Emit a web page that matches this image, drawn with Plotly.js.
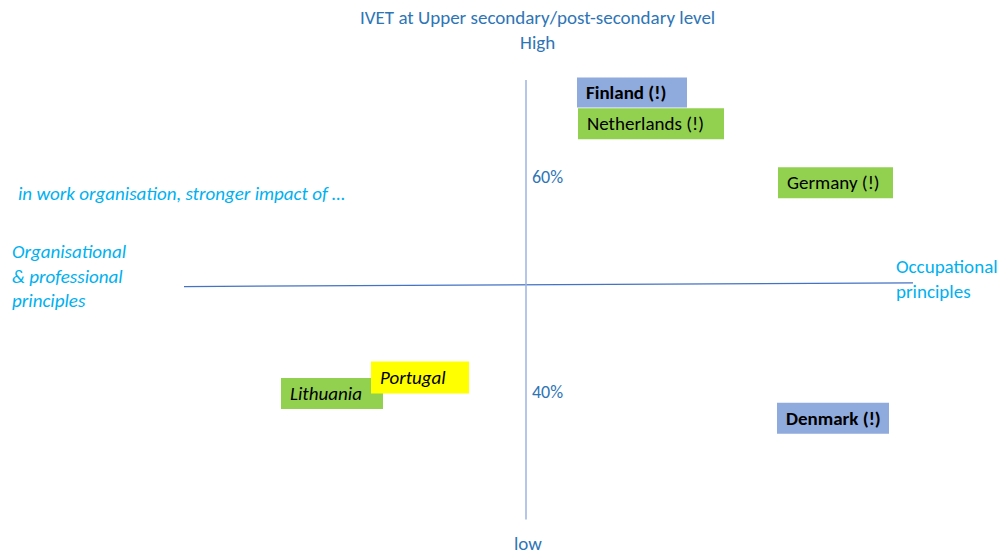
<!DOCTYPE html>
<html><head><meta charset="utf-8">
<script src="https://cdn.plot.ly/plotly-3.0.1.min.js"></script>
<style>html,body{margin:0;padding:0;background:#fff}#chart{width:1002px;height:554px}</style>
</head><body><div id="chart"></div>
<script>
// Data: countries placed by orientation (x: organisational <0 | occupational >0)
// and share of IVET at upper secondary/post-secondary level (y, %)
const countries = ["Finland (!)", "Netherlands (!)", "Germany (!)", "Lithuania", "Portugal", "Denmark (!)"];
const orientation = [2.12, 2.5, 6.19, -3.88, -2.12, 6.14];
const ivetShare = [67.9, 65.0, 59.5, 39.9, 41.4, 37.6];
const group = ["blue", "green", "green", "green", "yellow", "blue"];
const yTickVals = [60, 40];
const yTickText = ["60%", "40%"];

const FONT = "Carlito, Calibri, Lato, sans-serif";
const FS = 19;
const fill = {blue: "#8FAADC", green: "#92D050", yellow: "#FFFF00"};
const boxW = [110, 146, 115, 102, 98, 112];
const boxH = [30, 31, 31, 31, 32, 31];
const bold = [true, false, false, false, false, true];
const italic = [false, false, false, true, true, false];

const shapes = [
  {type: "line", xref: "x", yref: "y", x0: -6.84, y0: 49.85, x1: 7.74, y1: 50.2,
   line: {color: "#4472C4", width: 1.3}},
  {type: "line", xref: "x", yref: "y", x0: 0, y0: 69.07, x1: 0, y1: 28.2,
   line: {color: "#9DB3E0", width: 1.5}}
];
const annotations = [];

countries.forEach((c, i) => {
  const w = boxW[i], h = boxH[i];
  shapes.push({
    type: "rect", xref: "x", yref: "y", xsizemode: "pixel", ysizemode: "pixel",
    xanchor: orientation[i], yanchor: ivetShare[i],
    x0: -w / 2, x1: w / 2, y0: -h / 2, y1: h / 2,
    fillcolor: fill[group[i]], line: {width: 0}, layer: "above"
  });
  let t = c;
  if (bold[i]) t = "<b>" + t + "</b>";
  if (italic[i]) t = "<i>" + t + "</i>";
  annotations.push({
    x: orientation[i], y: ivetShare[i], xref: "x", yref: "y",
    text: t, showarrow: false, align: "left",
    xanchor: "left", yanchor: "middle", xshift: -w / 2 + 7,
    font: {family: FONT, size: FS, color: "#000"}
  });
});

yTickVals.forEach((v, i) => annotations.push({
  x: 0, y: v, xref: "x", yref: "y", text: yTickText[i], showarrow: false,
  xanchor: "left", yanchor: "middle", xshift: 4,
  font: {family: FONT, size: FS - 1, color: "#2E75B6"}
}));

const P = (px, py) => ({x: px / 1002, y: 1 - py / 554});
function lab(text, px, py, opts) {
  const p = P(px, py);
  return Object.assign({x: p.x, y: p.y, xref: "paper", yref: "paper", text: text,
    showarrow: false, yanchor: "middle"}, opts);
}
const blueFont = {family: FONT, size: FS, color: "#2E75B6"};
const cyanFont = {family: FONT, size: FS, color: "#00B0F0"};
annotations.push(lab("IVET at Upper secondary/post-secondary level<br>High", 537, 30, {xanchor: "center", font: blueFont}));
annotations.push({x: 528 / 1002, y: 0, xref: "paper", yref: "paper", text: "low", showarrow: false,
  xanchor: "center", yanchor: "bottom", yshift: -3, font: blueFont});
annotations.push(lab("<i>in work organisation, stronger impact of …</i>", 16, 193, {xanchor: "left", font: cyanFont}));
annotations.push(lab("<i>Organisational<br>& professional<br>principles</i>", 10, 276, {xanchor: "left", align: "left", font: cyanFont}));
annotations.push(lab("Occupational<br>principles", 894, 279, {xanchor: "left", align: "left", font: cyanFont}));

const trace = {x: orientation, y: ivetShare, mode: "markers", type: "scatter",
  marker: {opacity: 0}, hoverinfo: "skip", showlegend: false};

Plotly.newPlot("chart", [trace], {
  width: 1002, height: 554, margin: {l: 0, r: 0, t: 0, b: 0},
  paper_bgcolor: "#fff", plot_bgcolor: "#fff",
  xaxis: {range: [-10.52, 9.52], visible: false, fixedrange: true},
  yaxis: {range: [24.98, 76.5], visible: false, fixedrange: true},
  shapes: shapes, annotations: annotations, showlegend: false
}, {displayModeBar: false, staticPlot: true});
</script></body></html>
